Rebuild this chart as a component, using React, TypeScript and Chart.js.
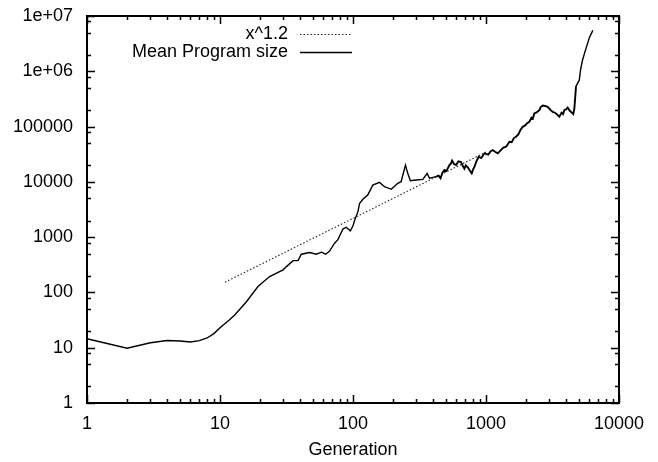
import React, { useEffect, useRef } from "react";
import { Chart, registerables } from "chart.js";

Chart.register(...registerables);

// ---- data ----
const generations = [1,2,3,4,5,6,7,8,9,10,11.8,12.9,15.8,19.3,23.6,29.8,31.6,35.4,38.6,40.9,47.2,53,57.8,62.3,66.7,72.7,77,84,89,95.5,100,103,109,112,118.7,129,141,158,172.7,194,217,230,248,258,270,298,335,361,376,
  422,440,455,470,487,505,531,545,556,575,596,620,650,668,688,705,729,755,781,800,818,850,881,920,973,1040,1080,1123,1170,1225,1300,1350,1416,1460,1499,1560,1620,1682,1750,1820,1886,1960,2040,2117,2200,2250,2308,2400,2517,2580,2666,2780,2904,3000,3080,3170,3300,3400,3557,3700,3800,3880,4000,4111,4250,4430,4530,4615,4753,5026,5150,5321,5649,5976,6355];
const meanSize = [14.5,9.8,12.3,13.5,13.2,12.7,13.4,15,18,23,32,39,68,128,194,256,293,376,376,491,527,491,534,491,560,776,900,1400,1510,1300,1600,2040,2890,4070,4830,5780,8750,9780,8180,7340,9400,10050,20100,14250,10500,10800,11100,14250,11600,
  12400,12900,11600,14500,16400,15800,20100,21500,24100,21000,20100,23500,22900,19500,17300,19800,18300,16000,14250,16800,18700,24000,28500,27000,32700,31000,35500,37600,35000,32700,38000,41500,43300,48000,53200,52000,62000,65500,72000,88000,98900,104000,115000,122000,145000,140000,172500,180000,198000,226000,241000,236000,228000,210000,196000,185000,178000,168000,151000,178000,168000,198000,205000,221000,195000,177000,168000,210000,540000,690000,1100000,1600000,2600000,4000000,5500000];

const powerX = [10.9, 1000];
const powerY = [153, 34600];

const xTickValues = [1, 10, 100, 1000, 10000];
const xTickLabels = ["1", "10", "100", "1000", "10000"];
const yTickValues = [1, 10, 100, 1000, 10000, 100000, 1000000, 10000000];
const yTickLabels = ["1", "10", "100", "1000", "10000", "100000", "1e+06", "1e+07"];
const xMinorSteps = [2, 3, 4, 5, 6, 7, 8, 9];
const yMinorSteps = [2, 5, 8];

const seriesLabels = ["x^1.2", "Mean Program size"];
const axisTitle = "Generation";

const FONT = "'Liberation Sans', Arial, Helvetica, sans-serif";

const frameTicks = {
  id: "frameTicks",
  afterDatasetsDraw(chart: any) {
    const { ctx, chartArea, scales } = chart;
    const { left, right, top, bottom } = chartArea;
    const xs = scales.x;
    const ys = scales.y;
    ctx.save();
    ctx.strokeStyle = "#000";
    ctx.lineWidth = 1.5;
    ctx.beginPath();
    xTickValues.forEach((d) => {
      [1, ...xMinorSteps].forEach((m) => {
        const v = d * m;
        if (v > xs.max + 1e-9 || v < xs.min - 1e-9) return;
        const px = Math.round(xs.getPixelForValue(v)) + 0.5;
        const len = m === 1 ? 8 : 4;
        ctx.moveTo(px, bottom);
        ctx.lineTo(px, bottom - len);
        ctx.moveTo(px, top);
        ctx.lineTo(px, top + len);
      });
    });
    yTickValues.forEach((d) => {
      [1, ...yMinorSteps].forEach((m) => {
        const v = d * m;
        if (v > ys.max + 1e-9 || v < ys.min - 1e-9) return;
        const py = Math.round(ys.getPixelForValue(v)) + 0.5;
        const len = m === 1 ? 8 : 4;
        ctx.moveTo(left, py);
        ctx.lineTo(left + len, py);
        ctx.moveTo(right, py);
        ctx.lineTo(right - len, py);
      });
    });
    ctx.stroke();
    ctx.lineWidth = 2;
    ctx.strokeRect(left, top, right - left, bottom - top);
    ctx.restore();
  },
};

const keyLegend = {
  id: "keyLegend",
  afterDraw(chart: any) {
    const { ctx } = chart;
    const ds = chart.data.datasets;
    const textRight = 288;
    const x0 = 300;
    const x1 = 352;
    const rows = [34, 52];
    ctx.save();
    ctx.font = `18px ${FONT}`;
    ctx.textAlign = "right";
    ctx.textBaseline = "middle";
    ds.forEach((d: any, i: number) => {
      const yy = rows[i];
      ctx.fillStyle = "#000";
      ctx.fillText(d.label, textRight, yy);
      ctx.strokeStyle = d.borderColor;
      ctx.lineWidth = d.borderWidth;
      ctx.setLineDash(d.borderDash || []);
      ctx.beginPath();
      ctx.moveTo(x0, yy + 0.5);
      ctx.lineTo(x1, yy + 0.5);
      ctx.stroke();
    });
    ctx.restore();
  },
};

export default function App() {
  const ref = useRef<HTMLCanvasElement | null>(null);
  useEffect(() => {
    if (!ref.current) return;
    const chart = new Chart(ref.current, {
      type: "line",
      data: {
        datasets: [
          {
            label: seriesLabels[0],
            data: powerX.map((x, i) => ({ x, y: powerY[i] })),
            borderColor: "#222",
            borderWidth: 1.1,
            borderDash: [1.5, 2],
            pointRadius: 0,
            fill: false,
            tension: 0,
            order: 2,
          },
          {
            label: seriesLabels[1],
            data: generations.map((x, i) => ({ x, y: meanSize[i] })),
            borderColor: "#000",
            borderWidth: 1.4,
            pointRadius: 0,
            fill: false,
            tension: 0,
            order: 1,
            segment: {
              borderWidth: (c: any) => (c.p0.parsed.x >= 420 && c.p0.parsed.x < 4700 ? 1.9 : 1.4),
            },
          },
        ],
      },
      options: {
        responsive: false,
        animation: false,
        devicePixelRatio: 1,
        layout: { padding: { top: 16, right: 39, left: 0, bottom: 0 } },
        plugins: { legend: { display: false }, tooltip: { enabled: false } },
        scales: {
          x: {
            type: "logarithmic",
            min: 1,
            max: 10000,
            grid: { display: false, drawTicks: false },
            border: { display: false },
            afterBuildTicks: (s: any) => {
              s.ticks = xTickValues.map((v) => ({ value: v }));
            },
            afterFit: (s: any) => {
              s.height = 59;
              s.paddingLeft = 0;
              s.paddingRight = 0;
              s.paddingTop = 0;
              s.paddingBottom = 0;
            },
            ticks: {
              padding: 10,
              color: "#000",
              font: { family: FONT, size: 18 },
              maxRotation: 0,
              autoSkip: false,
              callback: (v: any) => {
                const i = xTickValues.indexOf(Number(v));
                return i >= 0 ? xTickLabels[i] : "";
              },
            },
            title: {
              display: true,
              text: axisTitle,
              color: "#000",
              font: { family: FONT, size: 18 },
              padding: { top: 0, bottom: 1 },
            },
          },
          y: {
            type: "logarithmic",
            min: 1,
            max: 10000000,
            grid: { display: false, drawTicks: false },
            border: { display: false },
            afterBuildTicks: (s: any) => {
              s.ticks = yTickValues.map((v) => ({ value: v }));
            },
            afterFit: (s: any) => {
              s.width = 87;
              s.paddingLeft = 0;
              s.paddingRight = 0;
              s.paddingTop = 0;
              s.paddingBottom = 0;
            },
            ticks: {
              padding: 14,
              color: "#000",
              font: { family: FONT, size: 18 },
              autoSkip: false,
              callback: (v: any) => {
                const i = yTickValues.indexOf(Number(v));
                return i >= 0 ? yTickLabels[i] : "";
              },
            },
          },
        },
      } as any,
      plugins: [frameTicks, keyLegend],
    });
    return () => chart.destroy();
  }, []);
  return (
    <div style={{ position: "fixed", left: 0, top: 0, width: 658, height: 462, background: "#fff" }}>
      <canvas ref={ref} width={658} height={462} style={{ display: "block" }} />
    </div>
  );
}
